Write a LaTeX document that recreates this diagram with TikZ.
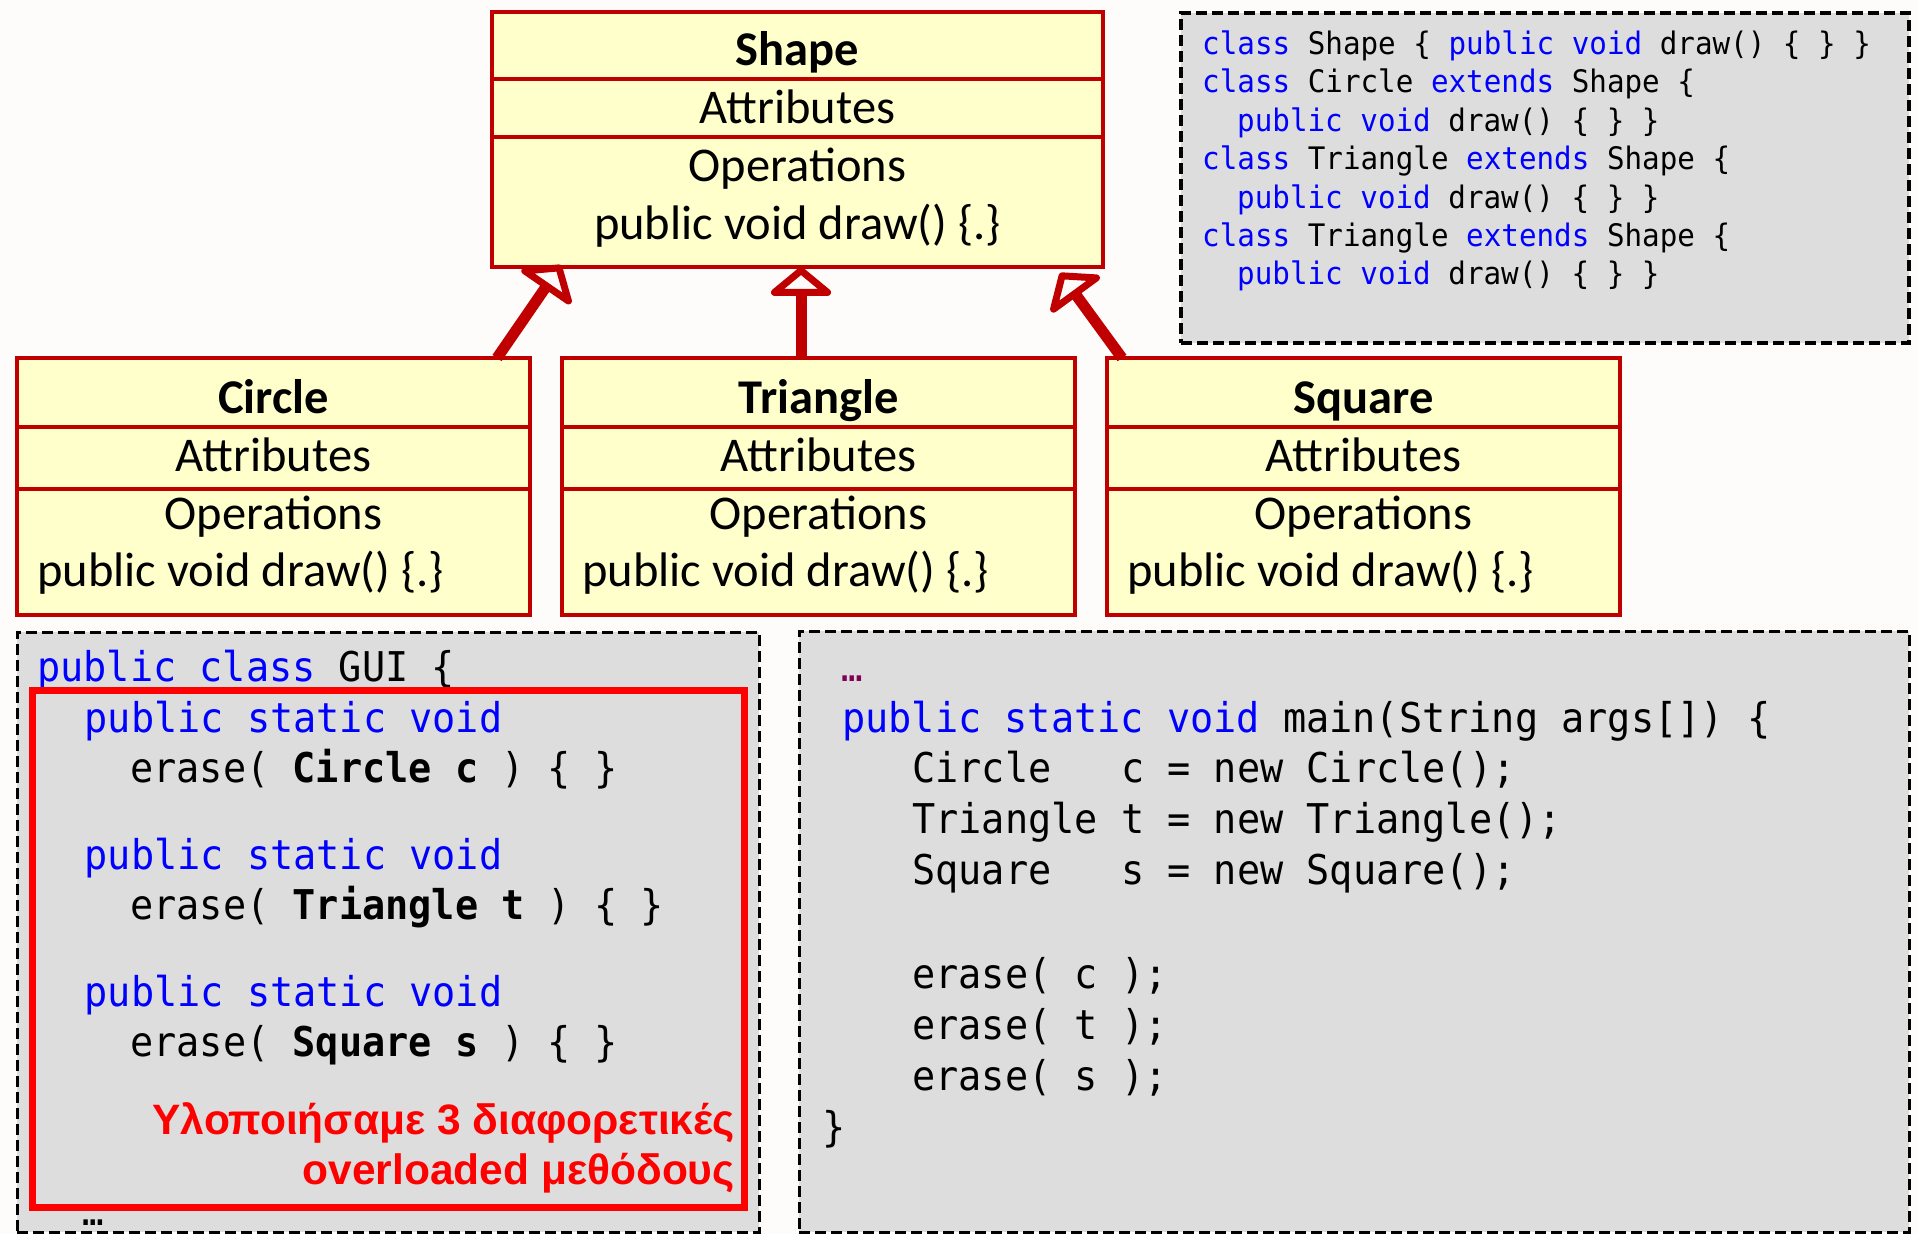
\documentclass[tikz,border=0pt]{standalone}
\usepackage{fontspec}
\setmainfont{Carlito}
\newfontfamily\codefont[FakeStretch=0.94]{DejaVu Sans Mono}
\newfontfamily\codefontsmall[FakeStretch=0.943]{DejaVu Sans Mono}
\newfontfamily\redfont{Liberation Sans}
\usetikzlibrary{arrows.meta,calc}
\definecolor{umlred}{RGB}{192,0,0}
\definecolor{umlyellow}{RGB}{255,255,204}
\definecolor{codegray}{RGB}{221,221,221}
\definecolor{kwblue}{RGB}{0,0,255}
\definecolor{dotpurple}{RGB}{127,0,85}
\definecolor{bgcol}{RGB}{254,252,250}
\newcommand\jkw[1]{\textcolor{kwblue}{#1}}
\tikzset{
 umlbox/.style={draw=umlred, line width=4pt, fill=umlyellow, inner sep=0pt, outer sep=0pt, anchor=north west},
 umldiv/.style={draw=umlred, line width=4pt},
 umltext/.style={inner sep=0pt, font=\fontsize{48.5}{58}\selectfont, text=black},
 codebox/.style={draw=black, line width=3pt, dash pattern=on 11pt off 5pt, fill=codegray, inner sep=0pt, outer sep=0pt, anchor=north west},
 smallcode/.style={inner sep=0pt, anchor=base west, font=\codefontsmall\fontsize{31}{37}\selectfont},
 bigcode/.style={inner sep=0pt, anchor=base west, font=\codefont\fontsize{41}{49}\selectfont},
 dotsstyle/.style={inner sep=0pt, anchor=base west, font=\codefont\fontsize{38}{44}\selectfont},
 redtext/.style={inner sep=0pt, anchor=base east, text=red, font=\redfont\bfseries\fontsize{42.5}{50}\selectfont},
 inh/.style={draw=umlred, line width=11pt, -{Triangle[open, round, length=30pt, width=71pt, line width=7pt]}},
}
\begin{document}
\begin{tikzpicture}[x=1pt,y=-1pt]
\useasboundingbox (0,0) rectangle (1918,1234);
\fill[bgcol] (0,0) rectangle (1918,1234);

% Shape class
\node[umlbox, minimum width=611pt, minimum height=255pt] (shape) at (492,12) {};
\draw[umldiv] (shape.west |- 0,79) -- (shape.east |- 0,79);
\draw[umldiv] (shape.west |- 0,137) -- (shape.east |- 0,137);
\node[umltext, anchor=base] (shape-title) at (797.5,65) {\bfseries Shape};
\node[umltext, anchor=base] (shape-attr) at (797.5,123) {Attributes};
\node[umltext, anchor=base] (shape-ops) at (797.5,181) {Operations};
\node[umltext, anchor=base] (shape-draw) at (797.5,239) {public void draw() \{.\}};

% child classes
\foreach \n/\l/\t in {circle/17/Circle, triangle/562/Triangle, square/1107/Square}{
  \node[umlbox, minimum width=513pt, minimum height=257pt] (\n) at (\l,358) {};
  \draw[umldiv] (\n.west |- 0,427) -- (\n.east |- 0,427);
  \draw[umldiv] (\n.west |- 0,489) -- (\n.east |- 0,489);
  \node[umltext, anchor=base] (\n-title) at (\l+256.5,413) {\bfseries \t};
  \node[umltext, anchor=base] (\n-attr) at (\l+256.5,471) {Attributes};
  \node[umltext, anchor=base] (\n-ops) at (\l+256.5,529) {Operations};
  \node[umltext, anchor=base west] (\n-draw) at (\l+20,586) {public void draw() \{.\}};
}

% inheritance arrows
\draw[inh] ([xshift=-33pt]circle.north east) -- ([xshift=69pt,yshift=2pt]shape.south west);
\draw[inh] (triangle.north -| 801,0) -- (shape.south -| 801,0);
\draw[inh] ([xshift=15pt]square.north west) -- ([xshift=-43pt,yshift=-6pt]shape.south east);

% code boxes
\node[codebox, line width=4pt, minimum width=728pt, minimum height=330pt] (defs) at (1181,13) {};
\node[codebox, minimum width=742pt, minimum height=600pt] (gui) at (17,632) {};
\node[codebox, minimum width=1110pt, minimum height=601pt] (mainbox) at (799,631) {};

% definitions code
\node[smallcode] (d1) at (1202,54) {\jkw{class} Shape \{ \jkw{public} \jkw{void} draw() \{ \} \}};
\node[smallcode] (d2) at (1202,92) {\jkw{class} Circle \jkw{extends} Shape \{};
\node[smallcode] (d3) at (1237,131) {\jkw{public} \jkw{void} draw() \{ \} \}};
\node[smallcode] (d4) at (1202,169) {\jkw{class} Triangle \jkw{extends} Shape \{};
\node[smallcode] (d5) at (1237,208) {\jkw{public} \jkw{void} draw() \{ \} \}};
\node[smallcode] (d6) at (1202,246) {\jkw{class} Triangle \jkw{extends} Shape \{};
\node[smallcode] (d7) at (1237,284) {\jkw{public} \jkw{void} draw() \{ \} \}};

% GUI code
\node[bigcode] (g0) at (37,681) {\jkw{public} \jkw{class} GUI \{};
\node[draw=red, line width=7pt, inner sep=0pt, outer sep=0pt, anchor=north west, minimum width=712pt, minimum height=517pt] (redbox) at (32,690) {};
\node[bigcode] (g1) at (84.5,732) {\jkw{public} \jkw{static} \jkw{void}};
\node[bigcode] (g2) at (130,782.5) {erase( \textbf{Circle c} ) \{ \}};
\node[bigcode] (g3) at (84.5,869) {\jkw{public} \jkw{static} \jkw{void}};
\node[bigcode] (g4) at (130,919.5) {erase( \textbf{Triangle t} ) \{ \}};
\node[bigcode] (g5) at (84.5,1006) {\jkw{public} \jkw{static} \jkw{void}};
\node[bigcode] (g6) at (130,1056.5) {erase( \textbf{Square s} ) \{ \}};
\node[redtext] (r1) at (735,1134) {Υλοποιήσαμε 3 διαφορετικές};
\node[redtext] (r2) at (735,1184) {overloaded μεθόδους};
\node[dotsstyle] (gdots) at (82,1225) {…};

% main code
\node[dotsstyle, text=dotpurple] (mdots) at (841,681) {…};
\node[bigcode] (m1) at (842,732) {\jkw{public} \jkw{static} \jkw{void} main(String args[]) \{};
\node[bigcode] (m2) at (912,782.5) {Circle\ \ \ c = new Circle();};
\node[bigcode] (m3) at (912,833.5) {Triangle t = new Triangle();};
\node[bigcode] (m4) at (912,884.5) {Square\ \ \ s = new Square();};
\node[bigcode] (m5) at (912,988) {erase( c );};
\node[bigcode] (m6) at (912,1039) {erase( t );};
\node[bigcode] (m7) at (912,1090) {erase( s );};
\node[bigcode] (m8) at (822,1141) {\}};
\end{tikzpicture}
\end{document}
